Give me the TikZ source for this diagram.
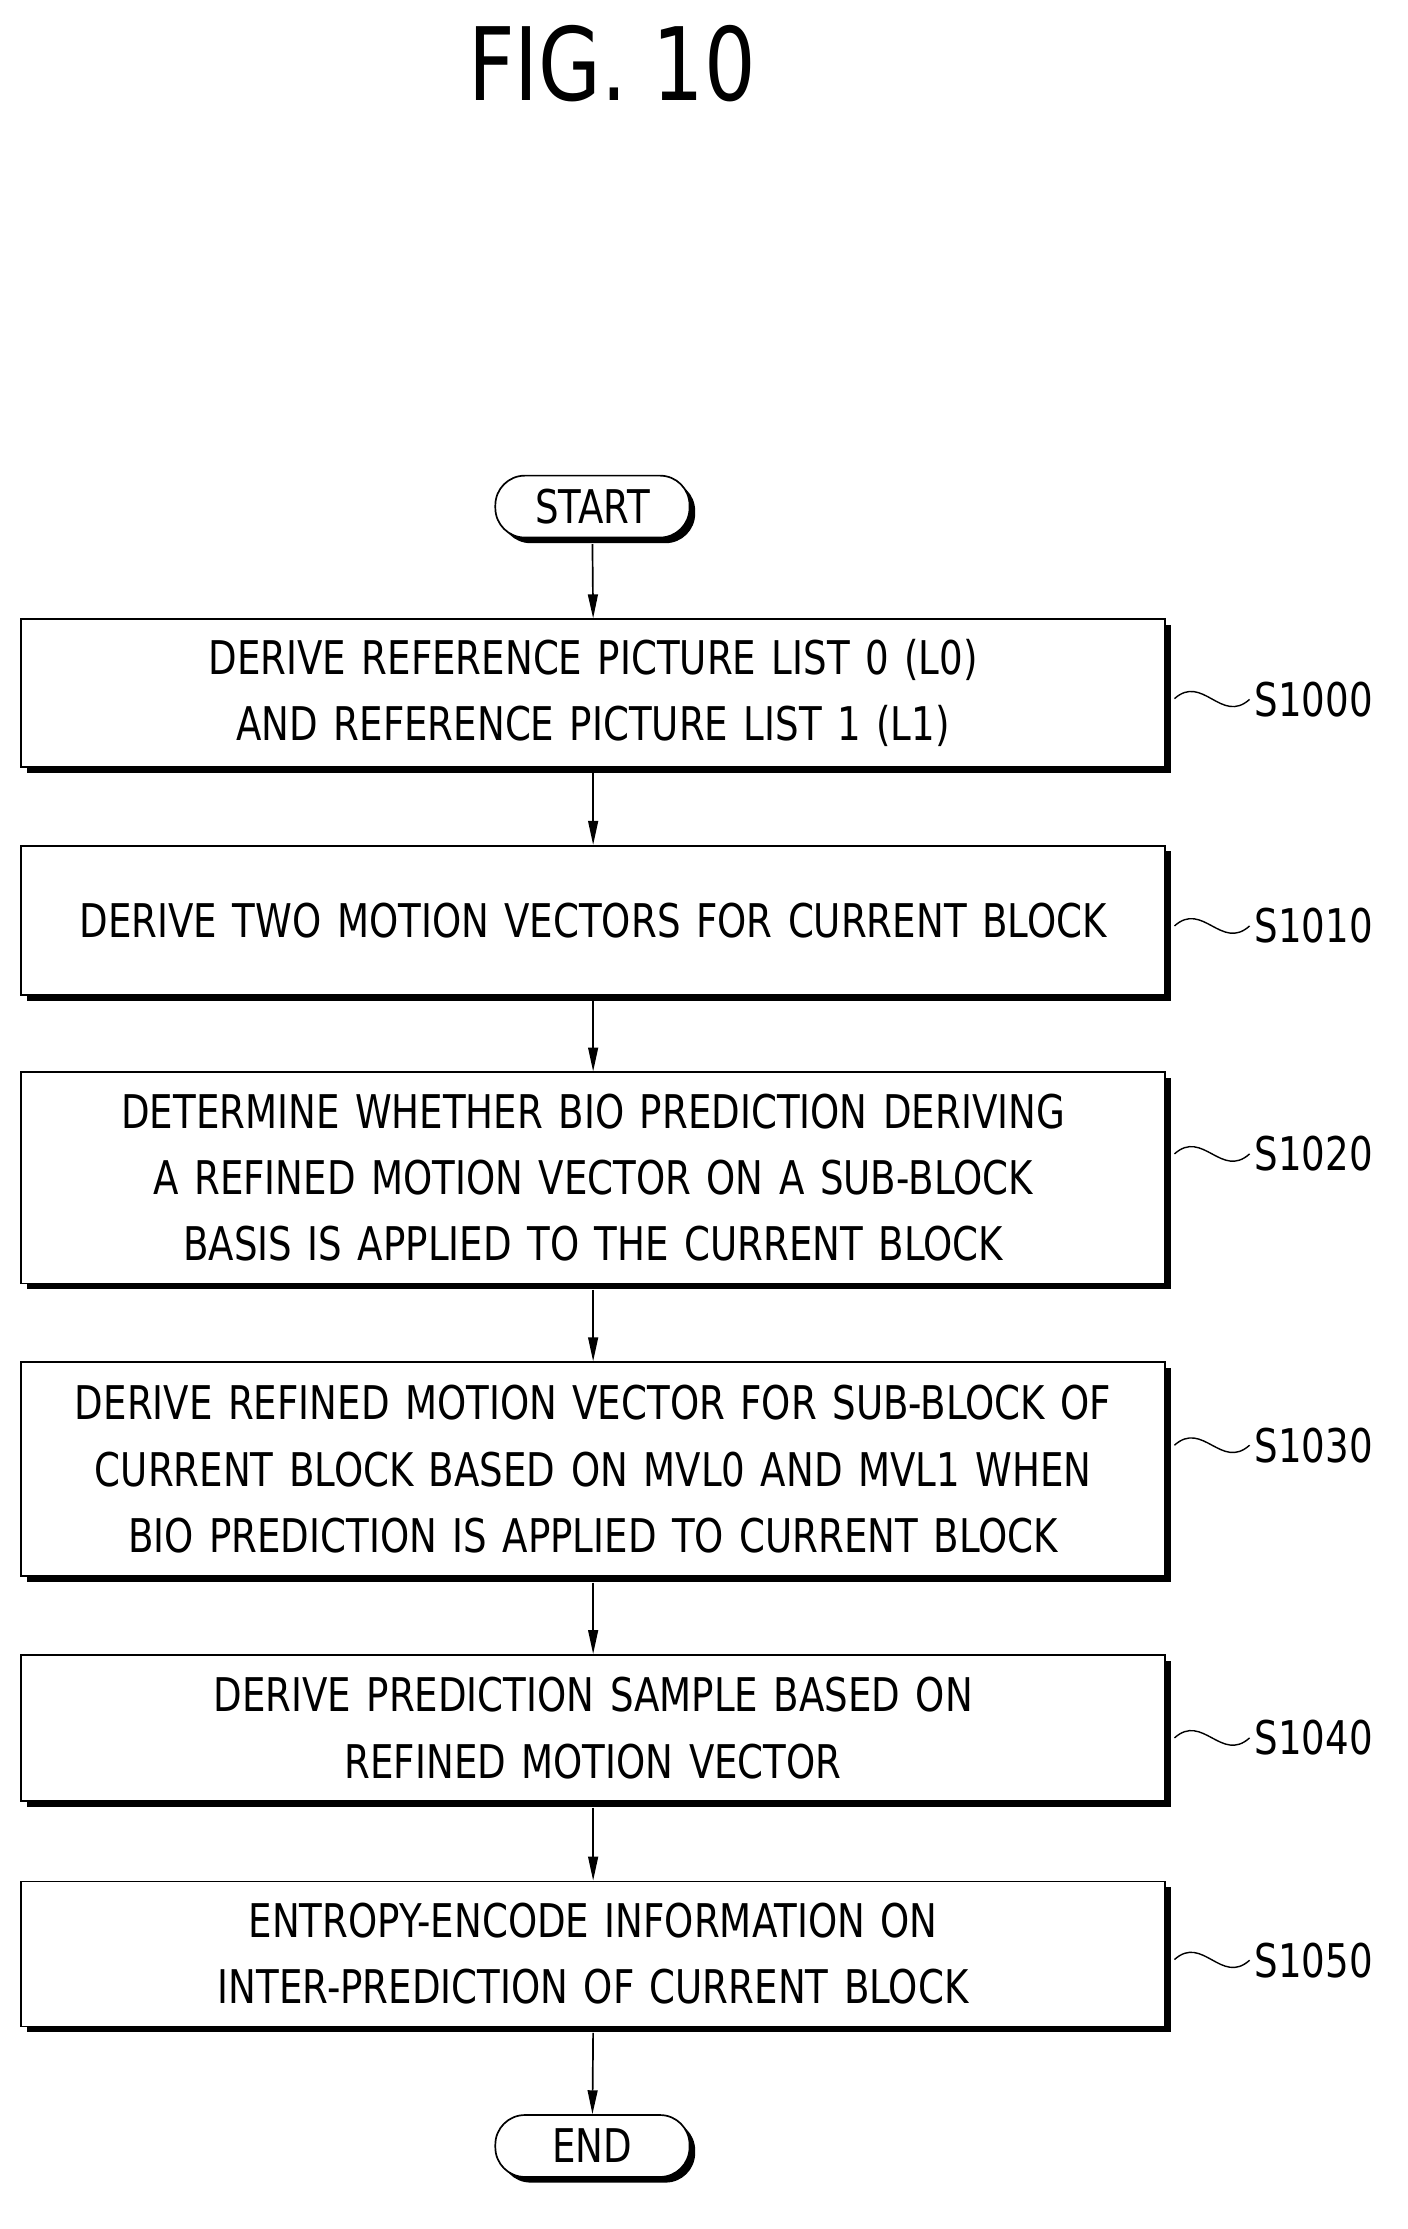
\documentclass[tikz,border=0pt]{standalone}
\usepackage{fontspec}
\setmainfont{DejaVu Sans}[FakeStretch=0.8]
\usetikzlibrary{arrows.meta,shadows}

\tikzset{
  stepbox/.style={draw, line width=1.2pt, fill=white, minimum width=813pt, text width=800pt, align=center,
    font=\fontsize{33}{47}\selectfont,
    drop shadow={fill=black, opacity=1, shadow xshift=4pt, shadow yshift=-4pt}},
  termbox/.style={draw, line width=1.2pt, fill=white, rounded corners=21pt, minimum width=138pt, minimum height=44pt,
    font=\fontsize{33}{35}\selectfont,
    drop shadow={fill=black, opacity=1, shadow xshift=4pt, shadow yshift=-4pt}},
  steplabel/.style={anchor=west, font=\fontsize{33}{35}\selectfont},
  flow/.style={line width=1.2pt, -{Triangle[length=17pt,width=7pt]}},
  squig/.style={line width=1pt}
}

\begin{document}
\begin{tikzpicture}[x=1pt,y=-1pt]
\useasboundingbox (0,0) rectangle (1000,1584);

\node [font=\fontsize{72}{80}\selectfont] (title) at (435,45) {FIG. 10};

\node [termbox] (start) at (421,360) {START};

\node [stepbox, minimum height=105pt] (b1) at (421.5,492.5) {DERIVE REFERENCE PICTURE LIST 0 (L0)\\AND REFERENCE PICTURE LIST 1 (L1)};
\node [stepbox, minimum height=106pt] (b2) at (421.5,654) {DERIVE TWO MOTION VECTORS FOR CURRENT BLOCK};
\node [stepbox, minimum height=150pt] (b3) at (421.5,837) {DETERMINE WHETHER BIO PREDICTION DERIVING\\A REFINED MOTION VECTOR ON A SUB-BLOCK\\BASIS IS APPLIED TO THE CURRENT BLOCK};
\node [stepbox, minimum height=152pt] (b4) at (421.5,1044) {DERIVE REFINED MOTION VECTOR FOR SUB-BLOCK OF\\CURRENT BLOCK BASED ON MVL0 AND MVL1 WHEN\\BIO PREDICTION IS APPLIED TO CURRENT BLOCK};
\node [stepbox, minimum height=104pt] (b5) at (421.5,1228) {DERIVE PREDICTION SAMPLE BASED ON\\REFINED MOTION VECTOR};
\node [stepbox, minimum height=103pt] (b6) at (421.5,1388.5) {ENTROPY-ENCODE INFORMATION ON\\INTER-PREDICTION OF CURRENT BLOCK};

\node [termbox] (end) at (421,1525) {END};

\node [steplabel] (s1) at (888,497) {S1000};
\node [steplabel] (s2) at (888,658) {S1010};
\node [steplabel] (s3) at (888,820) {S1020};
\node [steplabel] (s4) at (888,1027) {S1030};
\node [steplabel] (s5) at (888,1235) {S1040};
\node [steplabel] (s6) at (888,1393) {S1050};

% arrows
\draw [flow] ([yshift=-4pt]start.south) -- (b1.north);
\draw [flow] ([yshift=-4pt]b1.south) -- (b2.north);
\draw [flow] ([yshift=-4pt]b2.south) -- (b3.north);
\draw [flow] ([yshift=-4pt]b3.south) -- (b4.north);
\draw [flow] ([yshift=-4pt]b4.south) -- (b5.north);
\draw [flow] ([yshift=-4pt]b5.south) -- (b6.north);
\draw [flow] ([yshift=-4pt]b6.south) -- (end.north);

% squiggles
\draw [squig] ([xshift=6pt,yshift=-4pt]b1.east) .. controls +(20,-18) and +(-20,18) .. (s1.west);
\draw [squig] ([xshift=6pt,yshift=-4pt]b2.east) .. controls +(20,-18) and +(-20,18) .. (s2.west);
\draw [squig] ([xshift=6pt,yshift=17pt]b3.east) .. controls +(20,-18) and +(-20,18) .. (s3.west);
\draw [squig] ([xshift=6pt,yshift=17pt]b4.east) .. controls +(20,-18) and +(-20,18) .. (s4.west);
\draw [squig] ([xshift=6pt,yshift=-7pt]b5.east) .. controls +(20,-18) and +(-20,18) .. (s5.west);
\draw [squig] ([xshift=6pt,yshift=-4pt]b6.east) .. controls +(20,-18) and +(-20,18) .. (s6.west);
\end{tikzpicture}
\end{document}
